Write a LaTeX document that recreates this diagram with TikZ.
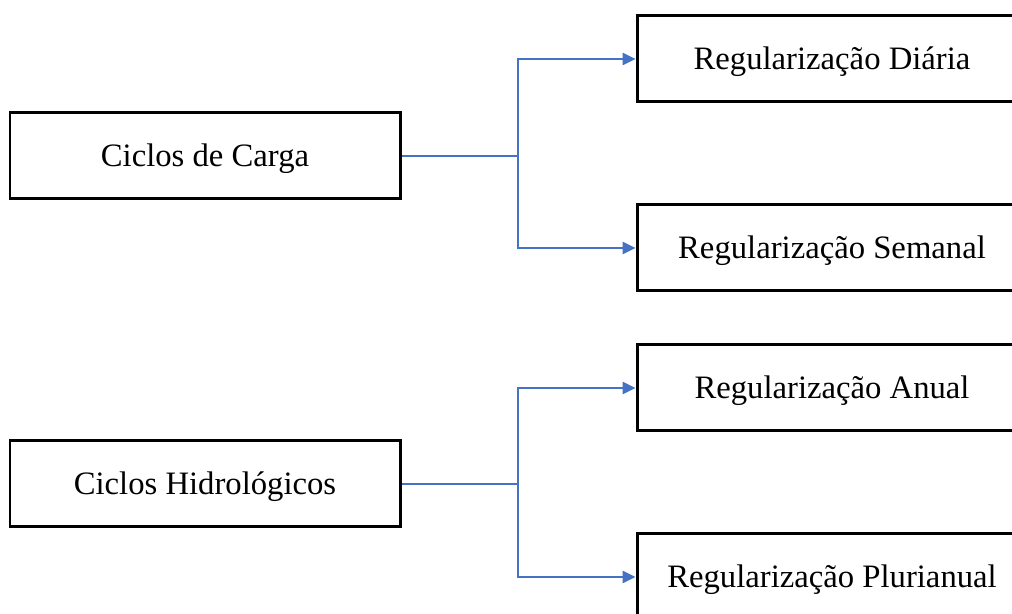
\documentclass[tikz,border=0pt]{standalone}
\usepackage{fontspec}
\setmainfont{Liberation Serif}
\usetikzlibrary{arrows.meta}
\definecolor{linkblue}{HTML}{4472C4}
\begin{document}
\begin{tikzpicture}[
		box/.style={draw, line width=1.7pt, minimum width=7.8cm, minimum height=1.72cm,
			inner sep=0pt, text height=13pt, text depth=1pt, font=\fontsize{18.6}{22}\selectfont},
		link/.style={linkblue, line width=0.6pt},
		linkarrow/.style={link, -{Triangle[length=0.26cm, width=0.25cm]}}]
		\useasboundingbox (0, 0) rectangle (20.24, 12.28);
		\node[box] (carga) at (4.1, 9.16) {Ciclos de Carga};
		\node[box] (hidro) at (4.1, 2.6) {Ciclos Hidrológicos};
		\node[box] (diaria) at (16.64, 11.1) {Regularização Diária};
		\node[box] (semanal) at (16.64, 7.32) {Regularização Semanal};
		\node[box] (anual) at (16.64, 4.52) {Regularização Anual};
		\node[box] (pluri) at (16.64, 0.74) {Regularização Plurianual};
		\coordinate (cargasplit) at (10.36, 9.16);
		\coordinate (hidrosplit) at (10.36, 2.6);
		
		\draw[link] (carga.east) -- (cargasplit);
		\draw[linkarrow] (cargasplit) |- (diaria.west);
		\draw[linkarrow] (cargasplit) |- (semanal.west);
		
		\draw[link] (hidro.east) -- (hidrosplit);
		\draw[linkarrow] (hidrosplit) |- (anual.west);
		\draw[linkarrow] (hidrosplit) |- (pluri.west);
	\end{tikzpicture}
\end{document}
